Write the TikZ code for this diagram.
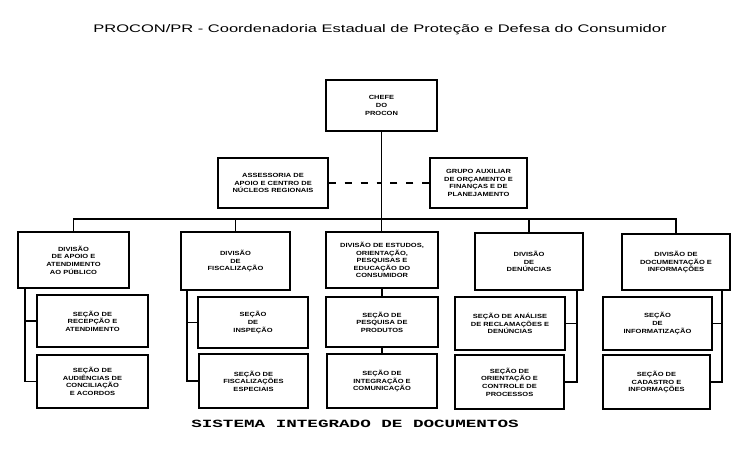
\documentclass[tikz,border=0pt]{standalone}
\usepackage{fontspec}
\setmainfont{Liberation Sans}
\newfontfamily\boxfont{Liberation Sans}[FakeStretch=1.25]
\newfontfamily\titlefont{Liberation Sans}[FakeStretch=1.5]
\newfontfamily\footfont{Liberation Mono}[FakeStretch=1.6]
\begin{document}
\begin{tikzpicture}[x=1pt,y=-1pt,line width=1.4pt,
  box/.style={draw,rectangle,minimum width=110,minimum height=54,inner sep=1pt,align=center,font=\boxfont\bfseries\fontsize{6}{7.6}\selectfont},
  staff/.style={dash pattern=on 7pt off 9pt}]
\useasboundingbox(0,0)rectangle(754,456);
\node[font=\titlefont\fontsize{11}{13}\selectfont](title)at(380,30){PROCON/PR - Coordenadoria Estadual de Proteção e Defesa do Consumidor};
% chefia e assessorias
\node[box,minimum width=111,minimum height=51](chefe)at(381.5,105.5){CHEFE\\DO\\PROCON};
\node[box,minimum height=50](apoio)at(273,183){ASSESSORIA DE\\APOIO E CENTRO DE\\NÚCLEOS REGIONAIS};
\node[box,minimum width=97,minimum height=50](grupo)at(478.5,183){GRUPO AUXILIAR\\DE ORÇAMENTO E\\FINANÇAS E DE\\PLANEJAMENTO};
% divisoes
\node[box,minimum width=111,minimum height=56](dv1)at(73.5,260){DIVISÃO\\DE APOIO E\\ATENDIMENTO\\AO PÚBLICO};
\node[box,minimum width=109,minimum height=58](dv2)at(235.5,261){DIVISÃO\\DE\\FISCALIZAÇÃO};
\node[box,minimum width=112,minimum height=56](dv3)at(382,260){DIVISÃO DE ESTUDOS,\\ORIENTAÇÃO,\\PESQUISAS E\\EDUCAÇÃO DO\\CONSUMIDOR};
\node[box,minimum width=108,minimum height=57](dv4)at(529,261.5){DIVISÃO\\DE\\DENÚNCIAS};
\node[box,minimum width=108,minimum height=56](dv5)at(676,262){DIVISÃO DE\\DOCUMENTAÇÃO E\\INFORMAÇÕES};
% secoes
\node[box,minimum width=111,minimum height=52,line width=2pt](sa1)at(92.5,321){SEÇÃO DE\\RECEPÇÃO E\\ATENDIMENTO};
\node[box,minimum width=111,minimum height=53,line width=2pt](sb1)at(92.5,381.5){SEÇÃO DE\\AUDIÊNCIAS DE\\CONCILIAÇÃO\\E ACORDOS};
\node[box,minimum height=51](sa2)at(253,322.5){SEÇÃO\\DE\\INSPEÇÃO};
\node[box,minimum width=109](sb2)at(253.5,381){SEÇÃO DE\\FISCALIZAÇÕES\\ESPECIAIS};
\node[box,minimum width=112,minimum height=50](sa3)at(382,322){SEÇÃO DE\\PESQUISA DE\\PRODUTOS};
\node[box](sb3)at(382,381){SEÇÃO DE\\INTEGRAÇÃO E\\COMUNICAÇÃO};
\node[box,minimum height=53](sa4)at(510,323.5){SEÇÃO DE ANÁLISE\\DE RECLAMAÇÕES E\\DENÚNCIAS};
\node[box,minimum width=109](sb4)at(509.5,382){SEÇÃO DE\\ORIENTAÇÃO E\\CONTROLE DE\\PROCESSOS};
\node[box,minimum width=109,minimum height=53](sa5)at(657.5,323.5){SEÇÃO\\DE\\INFORMATIZAÇÃO};
\node[box,minimum width=107](sb5)at(656.5,382){SEÇÃO DE\\CADASTRO E\\INFORMAÇÕES};
\node[font=\footfont\bfseries\fontsize{11}{13}\selectfont](sistema)at(355,424){SISTEMA INTEGRADO DE DOCUMENTOS};
% ligacoes
\coordinate(bus)at(382,219);
\draw(chefe.south)--(chefe.south|-dv3.north);
\draw(dv1.north)--(dv1.north|-bus)-|(dv5.north);
\draw(dv2.north)--(dv2.north|-bus);\draw(dv4.north)--(dv4.north|-bus);
\draw[staff](apoio.east)--(apoio.east-|chefe.south);
\draw[staff](grupo.west)--(grupo.west-|chefe.south);
\draw(dv3)--(sa3)--(sb3);
\foreach \c/\x/\yb in {1/25/288,2/187/290,4/577/290,5/722/290}{
  \coordinate(v\c)at(\x,\yb);
  \draw(v\c)|-(sa\c);\draw(v\c)|-(sb\c);}
\end{tikzpicture}
\end{document}
